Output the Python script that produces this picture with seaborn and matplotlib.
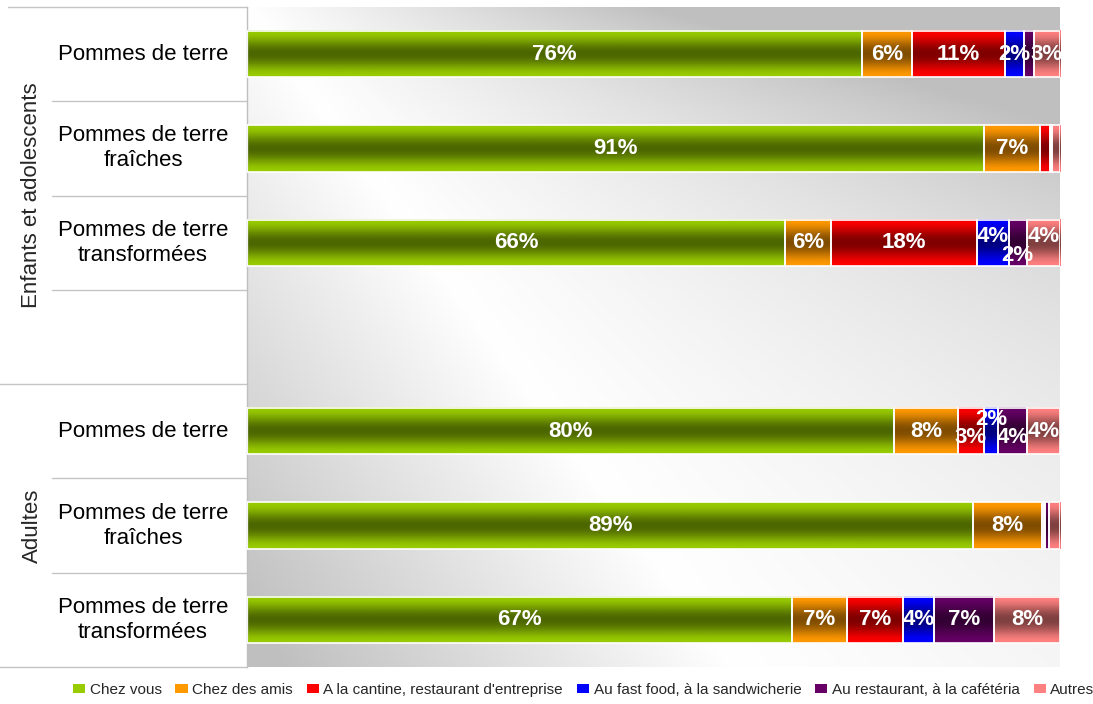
import numpy as np
import pandas as pd
import matplotlib
matplotlib.use("Agg")
import matplotlib.pyplot as plt
import seaborn as sns
from matplotlib.patches import Patch
from matplotlib.colors import to_rgb

# ---- data -------------------------------------------------------------
groups = ["Enfants et adolescents", "Adultes"]
row_keys = ["E1", "E2", "E3", "gap", "A1", "A2", "A3"]
bar_rows = ["E1", "E2", "E3", "A1", "A2", "A3"]
row_labels = [
    "Pommes de terre",
    "Pommes de terre\nfraîches",
    "Pommes de terre\ntransformées",
    "",
    "Pommes de terre",
    "Pommes de terre\nfraîches",
    "Pommes de terre\ntransformées",
]
series = [
    "Chez vous",
    "Chez des amis",
    "A la cantine, restaurant d'entreprise",
    "Au fast food, à la sandwicherie",
    "Au restaurant, à la cafétéria",
    "Autres",
]
colors = ["#99cc00", "#ff9900", "#ff0000", "#0000ff", "#660066", "#ff8080"]

chez_vous = [75.6, 90.6, 66.2, 79.6, 89.3, 67.0]
chez_amis = [6.2, 7.0, 5.6, 7.8, 8.5, 6.8]
cantine = [11.4, 1.2, 18.0, 3.2, 0.2, 6.9]
fast_food = [2.4, 0.1, 3.9, 1.8, 0.2, 3.8]
restaurant = [1.2, 0.1, 2.2, 3.6, 0.4, 7.4]
autres = [3.2, 1.0, 4.1, 4.0, 1.4, 8.1]
values = [chez_vous, chez_amis, cantine, fast_food, restaurant, autres]

# ---- style ------------------------------------------------------------
sns.set_style("white")
plt.rcParams["font.family"] = ["Liberation Sans", "DejaVu Sans"]

fig = plt.figure(figsize=(10.93, 7.04), dpi=100)
ax = fig.add_axes([247 / 1093, 1 - 667 / 704, 813 / 1093, 660 / 704])
ax.set_facecolor("none")

# diagonal grey/white backdrop of the plot area
H, W = 330, 406
v = np.linspace(0, 1, H)[:, None]
u = np.linspace(0, 1, W)[None, :]
d = u - 0.6 * v
shade = np.where(d >= 0, 0.5 * d / (1 + 4.5 * v), 0.45 * (-d))
g = 1 - np.minimum(shade, 0.25)
ax.imshow(np.dstack([g, g, g]), extent=(0, 1, 0, 1), transform=ax.transAxes,
          origin="upper", aspect="auto", zorder=0, interpolation="bilinear")

# ---- stacked bars -------------------------------------------------------
left = np.zeros(len(bar_rows))
for name, vals, col in zip(series, values, colors):
    df = pd.DataFrame({"row": bar_rows, "pct": vals})
    sns.barplot(data=df, x="pct", y="row", order=row_keys, orient="h",
                color=col, saturation=1, left=left.copy(), width=0.49,
                errorbar=None, edgecolor="white", linewidth=1.2, ax=ax)
    left += np.asarray(vals)

# cylinder-like shading on each segment
t = np.linspace(0, 1, 64)[:, None]
dark = 1 - 0.5 * np.sin(np.pi * t) ** 2
for p in list(ax.patches):
    w = p.get_width()
    if w <= 0:
        continue
    x0, y0, h = p.get_x(), p.get_y(), p.get_height()
    base = np.array(to_rgb(p.get_facecolor()))
    img = (dark[:, :, None] * base[None, None, :])
    ax.imshow(img, extent=(x0, x0 + w, y0 + h, y0), origin="upper",
              aspect="auto", zorder=2, interpolation="bicubic")
    p.set_facecolor("none")
    p.set_zorder(3)

ax.set_xlim(0, 100)
ax.set_ylim(len(row_keys) - 0.5, -0.5)

# ---- value labels -------------------------------------------------------
positions = [row_keys.index(r) for r in bar_rows]
nudge = {(2, 3): -6, (2, 4): 13, (2, 5): -6, (4, 3): -12, (4, 2): 6, (4, 4): 6}
cum = np.zeros(len(bar_rows))
for si, vals in enumerate(values):
    for ri, val in enumerate(vals):
        pos = positions[ri]
        if round(val) >= 2:
            ax.annotate(f"{val:.0f}%", (cum[ri] + val / 2, pos),
                        xytext=(0, -0.72 * nudge.get((pos, si), 0)),
                        textcoords="offset points", ha="center", va="center",
                        color="white", fontweight="bold", fontsize=16, zorder=5)
    cum += np.asarray(vals)

# ---- axes dressing ------------------------------------------------------
ax.set_xlabel("")
ax.set_ylabel("")
ax.set_xticks([])
ax.tick_params(left=False, labelleft=False, bottom=False, labelbottom=False)
for s in ["top", "right", "bottom"]:
    ax.spines[s].set_visible(False)
ax.spines["left"].set_color("#bfbfbf")
ax.spines["left"].set_linewidth(1)

tr = ax.get_yaxis_transform()
for yb, xs in [(-0.5, -0.294), (0.5, -0.24), (1.5, -0.24), (2.5, -0.24),
               (3.5, -0.304), (4.5, -0.24), (5.5, -0.24), (6.5, -0.304)]:
    ax.plot([xs, 0], [yb, yb], transform=tr, color="#c4c4c4", lw=1, clip_on=False)

for pos, lab in enumerate(row_labels):
    if lab:
        ax.text(-0.128, pos, lab, transform=tr, ha="center", va="center",
                fontsize=16, color="black", linespacing=1.25)

ax.text(-0.2645, 1.5, groups[0], transform=tr, rotation=90, ha="center",
        va="center", fontsize=16)
ax.text(-0.2645, 5.0, groups[1], transform=tr, rotation=90, ha="center",
        va="center", fontsize=16)

handles = [Patch(facecolor=c, edgecolor="none") for c in colors]
fig.legend(handles, series, loc="center", bbox_to_anchor=(0.534, 0.02),
           ncol=6, frameon=False, fontsize=11, handlelength=0.8,
           handleheight=0.6, handletextpad=0.3, columnspacing=0.9,
           borderaxespad=0)

fig.savefig("out.png", dpi=100)
